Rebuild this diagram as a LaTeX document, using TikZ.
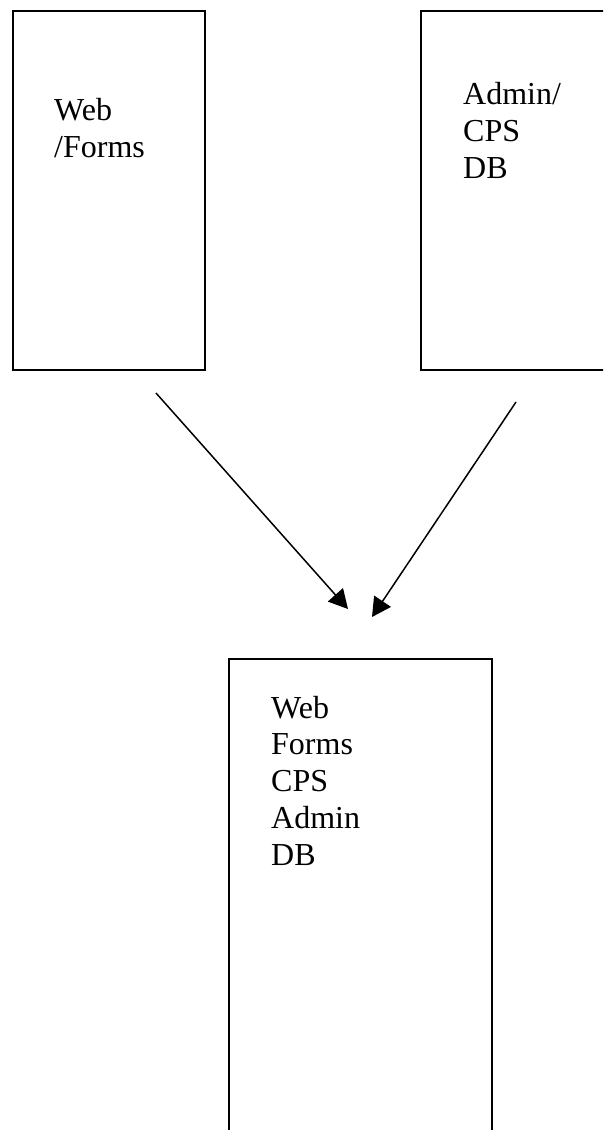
\documentclass[tikz,border=0pt]{standalone}
\usepackage{fontspec}
\setmainfont{Liberation Serif}
\usetikzlibrary{arrows.meta}
\begin{document}
\begin{tikzpicture}[x=1pt,y=-1pt,
  boxline/.style={draw=black,line width=2pt},
  label/.style={inner sep=0pt,anchor=base west,align=left,font=\fontsize{32}{36.7}\selectfont},
  flow/.style={line width=1.5pt,-{Triangle[length=19pt,width=20pt]}}]
\useasboundingbox (0,0) rectangle (603,1130);
\clip (0,0) rectangle (603,1130);
\fill[white] (0,0) rectangle (603,1130);
\node[boxline,rectangle,minimum width=192pt,minimum height=359pt,anchor=north west,inner sep=0pt] (webforms) at (12,10) {};
\node[boxline,rectangle,minimum width=200pt,minimum height=359pt,anchor=north west,inner sep=0pt] (admincps) at (420,10) {};
\node[boxline,rectangle,minimum width=263pt,minimum height=500pt,anchor=north west,inner sep=0pt] (merged) at (228,658) {};
\node[label] (t1) at (54,157) {Web\\/Forms};
\node[label] (t2) at (463,178) {Admin/\\CPS\\DB};
\node[label] (t3) at (271,865) {Web\\Forms\\CPS\\Admin\\DB};
\coordinate (a1s) at (156,393);
\coordinate (a1e) at (348,609);
\coordinate (a2s) at (516,402);
\coordinate (a2e) at (372,617);
\draw[flow] (a1s) -- (a1e);
\draw[flow] (a2s) -- (a2e);
\end{tikzpicture}
\end{document}
